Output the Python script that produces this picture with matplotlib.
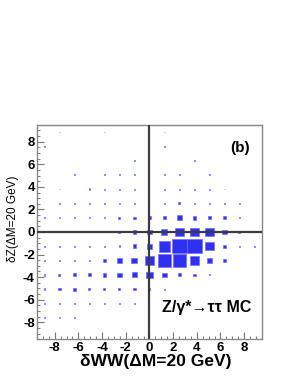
import matplotlib
matplotlib.use("Agg")
import matplotlib.pyplot as plt
import numpy as np
from matplotlib.patches import Rectangle
from matplotlib.ticker import MultipleLocator

# 15 x 15 bins from -9.5 to 9.5 on both axes
x_edges = np.linspace(-9.5, 9.5, 16)
y_edges = np.linspace(-9.5, 9.5, 16)

# bin contents, rows from top (dZ ~ +8.9) to bottom (dZ ~ -8.9),
# columns from left (dWW ~ -8.9) to right (dWW ~ +8.9)
counts = [
    [0, 3, 0, 0, 3, 0, 0, 0, 3, 0, 0, 0, 0, 0, 0],
    [3, 0, 0, 0, 0, 0, 0, 0, 3, 0, 0, 0, 0, 0, 0],
    [0, 0, 0, 0, 0, 0, 8, 0, 0, 0, 4, 0, 0, 0, 0],
    [0, 0, 3, 0, 3, 6, 3, 0, 3, 3, 0, 6, 0, 0, 0],
    [0, 2, 0, 8, 3, 3, 4, 0, 4, 4, 4, 3, 2, 0, 0],
    [0, 2, 3, 4, 4, 4, 4, 0, 8, 18, 8, 4, 3, 2, 0],
    [2, 3, 3, 4, 8, 18, 25, 35, 50, 111, 65, 55, 55, 10, 0],
    [0, 0, 0, 2, 4, 20, 45, 97, 160, 310, 300, 300, 111, 18, 0],
    [2, 3, 4, 8, 8, 12, 65, 125, 610, 1000, 940, 320, 60, 10, 4],
    [2, 4, 8, 14, 55, 105, 160, 430, 820, 780, 390, 110, 30, 0, 0],
    [10, 18, 40, 40, 62, 90, 118, 218, 97, 40, 24, 6, 0, 0, 0],
    [12, 24, 40, 18, 18, 18, 24, 18, 3, 0, 0, 0, 0, 0, 0],
    [2, 2, 4, 3, 4, 4, 2, 0, 0, 0, 0, 0, 0, 0, 0],
    [4, 2, 3, 0, 0, 0, 0, 0, 0, 0, 0, 0, 0, 0, 0],
    [0, 0, 0, 0, 0, 0, 0, 0, 0, 0, 0, 0, 0, 0, 0],
]

tick_values = [-8, -6, -4, -2, 0, 2, 4, 6, 8]

plt.rcParams["font.family"] = ["Liberation Sans", "DejaVu Sans"]
plt.rcParams["axes.unicode_minus"] = False

fig = plt.figure(figsize=(2.91, 3.76), dpi=100)
ax = fig.add_axes([0.127, 0.098, 0.773, 0.570])

z = np.array(counts, dtype=float)[::-1]  # row 0 -> bottom
zmax = z.max()
xc = 0.5 * (x_edges[:-1] + x_edges[1:])
yc = 0.5 * (y_edges[:-1] + y_edges[1:])
bw = np.diff(x_edges)
bh = np.diff(y_edges)
for j in range(len(yc)):
    for i in range(len(xc)):
        if z[j, i] <= 0:
            continue
        f = np.sqrt(z[j, i] / zmax)
        w, h = bw[i] * f, bh[j] * f
        ax.add_patch(Rectangle((xc[i] - w / 2, yc[j] - h / 2), w, h,
                               facecolor="#3030f2", edgecolor="#7070ff",
                               lw=0.5, zorder=2))

ax.axhline(0, color="#3c3c3c", lw=1.6, zorder=3)
ax.axvline(0, color="#3c3c3c", lw=1.6, zorder=3)

ax.set_xlim(x_edges[0], x_edges[-1])
ax.set_ylim(y_edges[0], y_edges[-1])
ax.set_xticks(tick_values)
ax.set_yticks(tick_values)
ax.xaxis.set_minor_locator(MultipleLocator(0.5))
ax.yaxis.set_minor_locator(MultipleLocator(0.5))
ax.tick_params(which="both", direction="in", colors="#777777",
               labelcolor="black", labelsize=9.5, top=False, right=False)
ax.tick_params(which="major", length=5, width=0.8)
ax.tick_params(which="minor", length=2.5, width=0.7)
for lab in ax.get_xticklabels() + ax.get_yticklabels():
    lab.set_fontweight("bold")
ax.tick_params(axis="x", pad=2)
ax.tick_params(axis="y", pad=1.5)
for s in ax.spines.values():
    s.set_color("#888888")
    s.set_linewidth(1.0)

ax.set_xlabel("δWW(ΔM=20 GeV)", fontsize=12.5, fontweight="bold")
ax.xaxis.set_label_coords(0.527, -0.07)
ax.set_ylabel("δZ(ΔM=20 GeV)", fontsize=8.5)
ax.yaxis.set_label_coords(-0.08, 0.56)

ax.text(0.905, 0.89, "(b)", transform=ax.transAxes, fontsize=11,
        fontweight="bold", ha="center", va="center")
ax.text(0.955, 0.15, "Z/γ*→ττ MC", transform=ax.transAxes, fontsize=11.5,
        fontweight="bold", ha="right", va="center")

fig.savefig("out.png", dpi=100)
